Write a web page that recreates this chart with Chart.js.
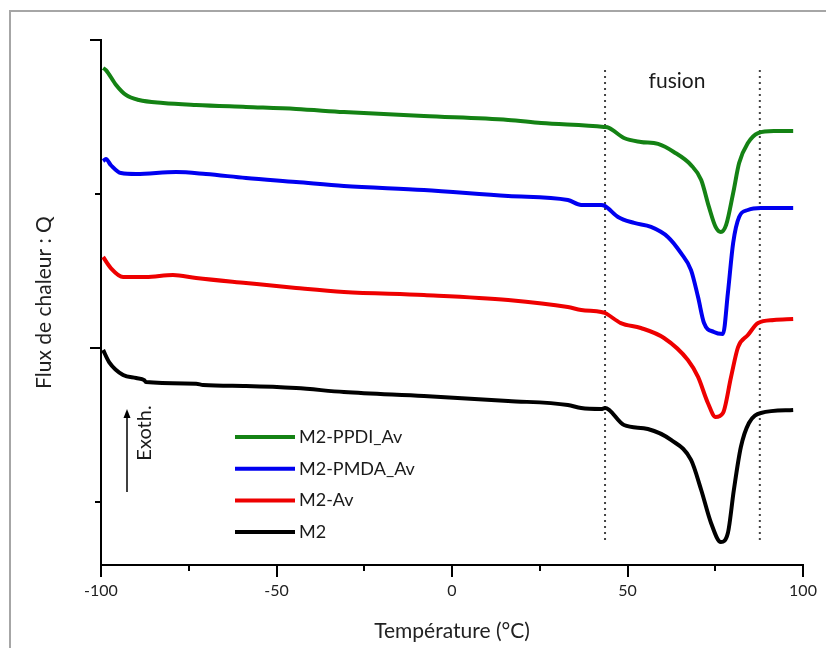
<!DOCTYPE html>
<html>
<head>
<meta charset="utf-8">
<script src="https://cdn.jsdelivr.net/npm/chart.js@4.4.1/dist/chart.umd.min.js"></script>
<style>
  body { margin: 0; background: #fff; }
  canvas { display: block; }
</style>
</head>
<body>
<canvas id="dsc" width="826" height="648"></canvas>
<script>
// M2-PPDI_Av (vert)
const tempVert = [-99.4, -98.6, -95.7, -92.9, -89.2, -82.3, -72.9, -58.7, -44.4, -30.8, -8.0, 16.0, 25.4, 43.3, 44.7, 49.0, 53.8, 58.7, 63.2, 68.1, 71.0, 73.2, 75.1, 76.6, 78.1, 80.1, 81.8, 84.3, 87.2, 91.7, 97.2];
const fluxVert = [28.18, 28.05, 27.08, 26.43, 26.10, 25.91, 25.78, 25.65, 25.52, 25.32, 25.06, 24.81, 24.61, 24.35, 24.30, 23.64, 23.38, 23.25, 22.73, 21.88, 20.91, 19.16, 17.86, 17.53, 17.99, 20.06, 22.01, 23.31, 23.96, 24.09, 24.09];

// M2-PMDA_Av (bleu)
const tempBleu = [-99.4, -98.6, -97.2, -94.3, -90.0, -78.6, -70.1, -58.7, -44.4, -30.8, -8.0, 16.0, 33.0, 36.8, 42.5, 43.6, 47.3, 51.9, 56.7, 61.5, 65.2, 68.1, 70.1, 71.8, 74.6, 77.2, 78.6, 80.1, 81.8, 84.3, 88.0, 97.2];
const fluxBleu = [22.14, 22.27, 21.88, 21.36, 21.30, 21.43, 21.30, 21.04, 20.78, 20.52, 20.26, 19.87, 19.61, 19.29, 19.29, 19.22, 18.51, 18.12, 17.86, 17.21, 16.17, 15.06, 13.31, 11.62, 11.04, 10.91, 13.57, 16.82, 18.51, 18.96, 19.09, 19.09];

// M2-Av (rouge)
const tempRouge = [-99.4, -97.2, -93.7, -87.2, -79.5, -72.9, -58.7, -44.4, -30.8, -8.0, 16.0, 33.0, 36.8, 42.5, 43.6, 48.1, 53.8, 60.4, 67.2, 70.1, 72.9, 75.1, 77.2, 79.5, 81.5, 84.3, 87.2, 91.7, 97.2];
const fluxRouge = [15.91, 15.19, 14.61, 14.61, 14.74, 14.55, 14.22, 13.90, 13.64, 13.44, 13.12, 12.66, 12.47, 12.34, 12.27, 11.62, 11.30, 10.65, 9.22, 8.12, 6.43, 5.52, 5.78, 8.12, 10.06, 10.84, 11.62, 11.82, 11.88];

// M2 (noir)
const tempNoir = [-99.4, -97.7, -93.7, -90.0, -87.7, -87.2, -72.9, -70.9, -58.7, -44.4, -30.8, -8.0, 16.0, 33.0, 36.8, 42.5, 43.6, 49.0, 55.8, 62.4, 68.1, 71.0, 73.8, 76.6, 78.6, 80.3, 82.3, 84.6, 88.0, 97.2];
const fluxNoir = [9.87, 9.09, 8.25, 8.05, 7.92, 7.79, 7.68, 7.60, 7.53, 7.40, 7.14, 6.88, 6.56, 6.30, 6.10, 6.04, 6.10, 5.00, 4.74, 4.03, 2.73, 0.78, -1.36, -2.60, -2.01, 0.78, 3.57, 5.13, 5.78, 5.97];

// limites de la zone de fusion
const limitesFusion = [43.6, 87.7];
const hauteurPointilles = [-2.47, 28.25];

const xTicks = [-100, -50, 0, 50, 100];

const FONT = 'Lato, "Open Sans", sans-serif';

function serie(temps, flux) {
  return temps.map((t, i) => ({ x: t, y: flux[i] }));
}

function courbe(label, temps, flux, cor) {
  return {
    label: label,
    data: serie(temps, flux),
    borderColor: cor,
    borderWidth: 4,
    pointRadius: 0,
    cubicInterpolationMode: 'monotone',
    fill: false,
  };
}

function pointilles(t) {
  return {
    label: '',
    data: [{ x: t, y: hauteurPointilles[0] }, { x: t, y: hauteurPointilles[1] }],
    borderColor: '#444',
    borderWidth: 2,
    borderDash: [2, 4],
    pointRadius: 0,
    fill: false,
  };
}

const cadre = {
  id: 'cadre',
  beforeDraw(chart) {
    const ctx = chart.ctx;
    ctx.save();
    ctx.fillStyle = '#fff';
    ctx.fillRect(0, 0, chart.width, chart.height);
    ctx.strokeStyle = '#a6a6a6';
    ctx.lineWidth = 2;
    ctx.strokeRect(10, 11, chart.width + 10, chart.height + 10);
    ctx.restore();
  }
};

const decor = {
  id: 'decor',
  afterDraw(chart) {
    const ctx = chart.ctx;
    const x = chart.scales.x;
    const y = chart.scales.y;
    ctx.save();

    // graduations
    ctx.strokeStyle = '#000';
    ctx.lineWidth = 2;
    x.ticks.forEach(t => {
      const px = Math.round(x.getPixelForValue(t.value));
      const len = t.value % 50 === 0 ? 12 : 6;
      ctx.beginPath();
      ctx.moveTo(px, y.bottom);
      ctx.lineTo(px, y.bottom + len);
      ctx.stroke();
    });
    y.ticks.forEach(t => {
      const py = Math.round(y.getPixelForValue(t.value));
      const len = t.value % 20 === 10 ? 11 : 6;
      ctx.beginPath();
      ctx.moveTo(x.left, py);
      ctx.lineTo(x.left - len, py);
      ctx.stroke();
    });

    // legende
    const sets = chart.data.datasets.filter(d => d.label);
    ctx.font = '18px ' + FONT;
    ctx.textBaseline = 'middle';
    ctx.fillStyle = '#1a1a1a';
    sets.forEach((d, i) => {
      const ly = 437 + i * 31.7;
      ctx.strokeStyle = d.borderColor;
      ctx.lineWidth = 4;
      ctx.beginPath();
      ctx.moveTo(235, ly);
      ctx.lineTo(295, ly);
      ctx.stroke();
      ctx.fillText(d.label, 299, ly);
    });

    // fusion
    ctx.font = '21px ' + FONT;
    ctx.textAlign = 'center';
    ctx.fillText('fusion', x.getPixelForValue(64.1), y.getPixelForValue(27.3));

    // Exoth.
    ctx.font = '20px ' + FONT;
    ctx.save();
    ctx.translate(145, 433);
    ctx.rotate(-Math.PI / 2);
    ctx.fillText('Exoth.', 0, 0);
    ctx.restore();
    ctx.strokeStyle = '#000';
    ctx.fillStyle = '#000';
    ctx.lineWidth = 1.5;
    ctx.beginPath();
    ctx.moveTo(127, 492);
    ctx.lineTo(127, 416);
    ctx.stroke();
    ctx.beginPath();
    ctx.moveTo(127, 409);
    ctx.lineTo(123.5, 418);
    ctx.lineTo(130.5, 418);
    ctx.closePath();
    ctx.fill();

    ctx.restore();
  }
};

new Chart(document.getElementById('dsc'), {
  type: 'line',
  data: {
    datasets: [
      courbe('M2-PPDI_Av', tempVert, fluxVert, '#148214'),
      courbe('M2-PMDA_Av', tempBleu, fluxBleu, '#0000f0'),
      courbe('M2-Av', tempRouge, fluxRouge, '#ee0000'),
      courbe('M2', tempNoir, fluxNoir, '#000000'),
      pointilles(limitesFusion[0]),
      pointilles(limitesFusion[1]),
    ]
  },
  options: {
    responsive: false,
    devicePixelRatio: 1,
    animation: false,
    layout: { padding: { top: 40, right: 23, left: 0, bottom: 0 } },
    plugins: {
      legend: { display: false },
      tooltip: { enabled: false },
    },
    scales: {
      x: {
        type: 'linear',
        min: -100,
        max: 100,
        afterFit(scale) {
          scale.height = 83;
          scale.paddingLeft = 0;
          scale.paddingRight = 0;
        },
        afterBuildTicks(scale) {
          scale.ticks = [-100, -75, -50, -25, 0, 25, 50, 75, 100].map(v => ({ value: v }));
        },
        ticks: {
          autoSkip: false,
          maxRotation: 0,
          padding: 16,
          color: '#222',
          font: { family: FONT, size: 16 },
          callback: v => xTicks.includes(v) ? String(v) : '',
        },
        grid: { display: false, drawTicks: false },
        border: { display: true, color: '#000', width: 2 },
        title: {
          display: true,
          text: 'Température (°C)',
          color: '#222',
          font: { family: FONT, size: 21 },
          padding: { top: 4, bottom: 4 },
        },
      },
      y: {
        type: 'linear',
        min: -4.09,
        max: 30,
        afterFit(scale) { scale.width = 101; },
        afterBuildTicks(scale) {
          scale.ticks = [0, 10, 20, 30].map(v => ({ value: v }));
        },
        ticks: { display: false },
        grid: { display: false, drawTicks: false },
        border: { display: true, color: '#000', width: 2 },
        title: {
          display: true,
          text: 'Flux de chaleur : Q',
          color: '#222',
          font: { family: FONT, size: 21 },
          padding: { top: 32, bottom: 32 },
        },
      }
    }
  },
  plugins: [cadre, decor]
});
</script>
</body>
</html>
